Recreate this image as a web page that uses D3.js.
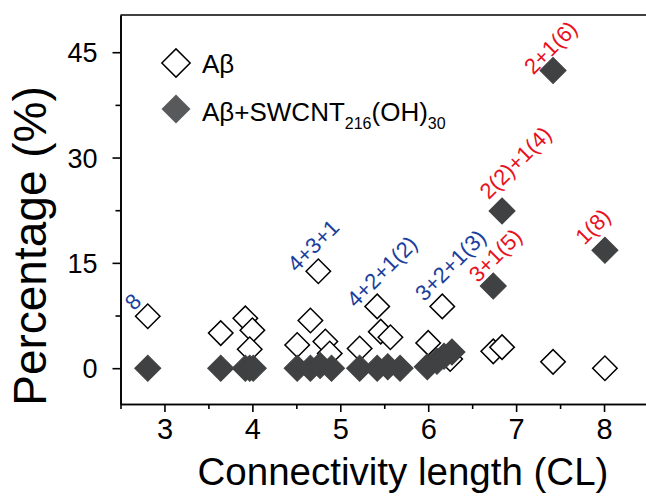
<!DOCTYPE html>
<html>
<head>
<meta charset="utf-8">
<script src="https://cdn.jsdelivr.net/npm/d3@7/dist/d3.min.js"></script>
<style>
  body { margin: 0; background: #fff; }
  text { font-family: "Liberation Sans", Arial, sans-serif; }
</style>
</head>
<body>
<svg id="chart"></svg>
<script>
// Aβ alone (open diamonds)
var openCL  = [2.81, 3.64, 3.92, 4.00, 3.97, 4.51, 4.66, 4.75, 4.83, 4.88, 5.22, 5.42, 5.46, 5.57, 6.00, 6.16, 6.25, 6.74, 6.84, 7.42, 8.01];
var openPct = [7.4, 5.0, 7.1, 5.4, 2.7, 3.3, 6.8, 13.8, 3.8, 2.1, 2.8, 8.8, 5.2, 4.4, 3.6, 8.8, 1.3, 2.4, 3.0, 0.9, 0.0];

// Aβ + SWCNT216(OH)30 (filled diamonds)
var filledCL  = [2.81, 3.64, 3.92, 3.97, 4.01, 4.51, 4.66, 4.77, 4.90, 5.22, 5.42, 5.54, 5.68, 5.99, 6.10, 6.18, 6.27, 6.74, 6.84, 7.42, 8.01];
var filledPct = [0, 0, 0, 0, 0, 0, 0, 0.4, 0, 0, 0, 0.2, 0, 0.2, 1.0, 1.7, 2.3, 11.7, 22.4, 42.4, 16.8];

// annotations: text, colour group, position of the label centre in data units
var labelText  = ["8", "4+3+1", "4+2+1(2)", "3+2+1(3)", "3+1(5)", "2(2)+1(4)", "2+1(6)", "1(8)"];
var labelGroup = ["blue", "blue", "blue", "blue", "red", "red", "red", "red"];
var labelCL    = [2.64, 4.69, 5.47, 6.25, 6.76, 6.99, 7.39, 7.87];
var labelPct   = [9.5, 17.5, 13.8, 14.7, 16.1, 29.3, 45.7, 20.2];

var xMajor = [3, 4, 5, 6, 7, 8];
var xMinor = [2.5, 3.5, 4.5, 5.5, 6.5, 7.5, 8.5];
var yMajor = [0, 15, 30, 45];
var yMinor = [7.5, 22.5, 37.5];

var width = 646, height = 497;
var margin = {top: 15, right: -2, bottom: 93, left: 120.5};

var svg = d3.select('#chart')
  .attr('width', width)
  .attr('height', height);

var x = d3.scaleLinear()
  .domain([2.5, 8.5])
  .range([margin.left, width - margin.right]);

var y = d3.scaleLinear()
  .domain([-5.1, 50.3])
  .range([height - margin.bottom, margin.top]);

var colors = {blue: '#1b3f9e', red: '#e8121f'};

// axes
var xAxis = svg.append('g')
  .attr('transform', 'translate(0,' + (height - margin.bottom) + ')')
  .call(d3.axisBottom(x).tickValues(xMajor).tickSize(8).tickSizeOuter(0).tickPadding(6).tickFormat(d3.format('d')));
svg.append('g')
  .attr('transform', 'translate(0,' + (height - margin.bottom) + ')')
  .call(d3.axisBottom(x).tickValues(xMinor).tickSize(5).tickSizeOuter(0).tickFormat(''));

var yAxis = svg.append('g')
  .attr('transform', 'translate(' + margin.left + ',0)')
  .call(d3.axisLeft(y).tickValues(yMajor).tickSize(8).tickSizeOuter(0).tickPadding(15));
svg.append('g')
  .attr('transform', 'translate(' + margin.left + ',0)')
  .call(d3.axisLeft(y).tickValues(yMinor).tickSize(5).tickSizeOuter(0).tickFormat(''));

svg.selectAll('.domain, .tick line')
  .attr('stroke', '#000')
  .attr('stroke-width', 1.6);

xAxis.selectAll('text').style('font-size', '29px').attr('fill', '#000');
yAxis.selectAll('text').style('font-size', '27px').attr('fill', '#000').attr('dy', '0.36em');

// top frame line
svg.append('line')
  .attr('x1', x(2.5)).attr('x2', x(8.5))
  .attr('y1', y(50.3)).attr('y2', y(50.3))
  .attr('stroke', '#000')
  .attr('stroke-width', 1.6);

// axis titles
svg.append('text')
  .attr('x', 403)
  .attr('y', 485)
  .attr('text-anchor', 'middle')
  .style('font-size', '38.5px')
  .text('Connectivity length (CL)');

svg.append('text')
  .attr('transform', 'rotate(-90)')
  .attr('x', -246)
  .attr('y', 46)
  .attr('text-anchor', 'middle')
  .style('font-size', '46px')
  .text('Percentage (%)');

// markers
var openSym   = d3.symbol().type(d3.symbolSquare).size(300);
var filledSym = d3.symbol().type(d3.symbolSquare).size(340);

var openData = openCL.map((d, i) => ({cl: d, pct: openPct[i]}));
var filledData = filledCL.map((d, i) => ({cl: d, pct: filledPct[i]}));

svg.append('g').selectAll('path')
  .data(openData)
  .enter()
  .append('path')
  .attr('d', openSym)
  .attr('transform', d => 'translate(' + x(d.cl) + ',' + y(d.pct) + ') rotate(45)')
  .attr('fill', '#fff')
  .attr('stroke', '#000')
  .attr('stroke-width', 1.5);

svg.append('g').selectAll('path')
  .data(filledData)
  .enter()
  .append('path')
  .attr('d', filledSym)
  .attr('transform', d => 'translate(' + x(d.cl) + ',' + y(d.pct) + ') rotate(45)')
  .attr('fill', '#404142')
  .attr('stroke', '#404142')
  .attr('stroke-width', 1);

// annotations
svg.append('g').selectAll('text')
  .data(labelText)
  .enter()
  .append('text')
  .attr('transform', (d, i) => 'translate(' + x(labelCL[i]) + ',' + y(labelPct[i]) + ') rotate(-45)')
  .attr('text-anchor', 'middle')
  .attr('dy', '0.36em')
  .style('font-size', '22px')
  .attr('fill', (d, i) => colors[labelGroup[i]])
  .text(d => d);

// legend
var legend = svg.append('g');
legend.append('path')
  .attr('d', d3.symbol().type(d3.symbolSquare).size(400))
  .attr('transform', 'translate(176,63) rotate(45)')
  .attr('fill', '#fff')
  .attr('stroke', '#000')
  .attr('stroke-width', 1.5);
legend.append('path')
  .attr('d', d3.symbol().type(d3.symbolSquare).size(420))
  .attr('transform', 'translate(176,109) rotate(45)')
  .attr('fill', '#58595b');

legend.append('text')
  .attr('x', 202).attr('y', 73)
  .style('font-size', '26px')
  .text('Aβ');

var lt = legend.append('text')
  .attr('x', 202).attr('y', 121)
  .style('font-size', '26px');
lt.append('tspan').text('Aβ+SWCNT');
lt.append('tspan').attr('dy', 8).style('font-size', '16px').text('216');
lt.append('tspan').attr('dy', -8).text('(OH)');
lt.append('tspan').attr('dy', 8).style('font-size', '16px').text('30');
</script>
</body>
</html>
